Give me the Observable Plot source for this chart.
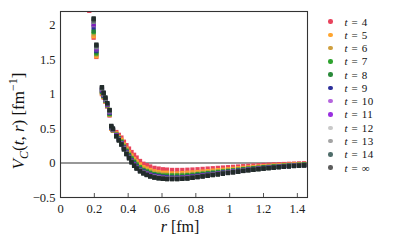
<!DOCTYPE html>
<html><head><meta charset="utf-8">
<script src="https://cdn.jsdelivr.net/npm/d3@7"></script>
<script src="https://cdn.jsdelivr.net/npm/@observablehq/plot@0.6"></script>
<style>
html,body{margin:0;padding:0;background:#fff;}
#wrap{position:relative;width:397px;height:245px;overflow:hidden;font-family:"Liberation Serif","DejaVu Serif",serif;}
#legend{position:absolute;left:328px;top:15px;font-family:"Liberation Serif","DejaVu Serif",serif;font-size:11px;color:#111;}
#legend .row{height:13.27px;line-height:12px;white-space:nowrap;display:flex;align-items:center;}
#legend .sw{display:inline-block;width:4.5px;height:4.5px;border-radius:50%;margin-right:12px;}
#legend .eq{margin:0 4px;}
#legend .num{letter-spacing:0.5px;}
</style></head>
<body><div id="wrap"><div id="legend"></div></div>
<script>
const r = [0.17,0.196,0.212,0.245,0.255,0.265,0.276,0.29,0.30,0.31,
 0.33,0.345,0.36,0.375,0.39,0.405,0.42,0.435,0.45,0.47,0.49,0.51,0.53,0.555,0.58,0.605,0.63,0.66,0.69,0.72,0.75,0.78,0.81,0.84,0.87,0.90,0.93,0.96,0.99,1.02,1.05,1.08,1.11,1.14,1.17,1.20,1.23,1.26,1.29,1.32,1.35,1.38,1.41,1.44];

const v4 = [2.21,1.82,1.54,1.00,0.95,0.89,0.82,0.69,0.50,0.47,
 0.45,0.41,0.37,0.31,0.26,0.21,0.16,0.12,0.08,0.03,-0.01,-0.03,-0.05,-0.07,-0.08,-0.09,-0.095,-0.10,-0.10,-0.10,-0.097,-0.094,-0.09,-0.085,-0.08,-0.075,-0.07,-0.065,-0.06,-0.055,-0.05,-0.045,-0.04,-0.036,-0.032,-0.028,-0.024,-0.02,-0.017,-0.014,-0.011,-0.008,-0.005,-0.003];
const v5 = [2.26,1.84,1.55,1.01,0.96,0.90,0.83,0.70,0.50,0.47,
 0.43,0.38,0.34,0.27,0.21,0.16,0.11,0.06,0.02,-0.02,-0.06,-0.08,-0.10,-0.12,-0.13,-0.14,-0.14,-0.15,-0.15,-0.145,-0.14,-0.136,-0.13,-0.124,-0.117,-0.11,-0.103,-0.097,-0.09,-0.083,-0.076,-0.07,-0.063,-0.057,-0.052,-0.047,-0.042,-0.036,-0.032,-0.028,-0.024,-0.02,-0.017,-0.014];
const v6 = [2.30,1.87,1.57,1.02,0.96,0.90,0.83,0.70,0.51,0.47,
 0.42,0.37,0.32,0.26,0.20,0.14,0.09,0.04,0.00,-0.05,-0.08,-0.10,-0.12,-0.14,-0.15,-0.16,-0.165,-0.17,-0.17,-0.165,-0.16,-0.155,-0.148,-0.14,-0.133,-0.125,-0.118,-0.11,-0.103,-0.095,-0.088,-0.08,-0.073,-0.067,-0.061,-0.055,-0.049,-0.044,-0.039,-0.034,-0.03,-0.026,-0.022,-0.019];
const v7 = [2.34,1.90,1.59,1.03,0.97,0.91,0.84,0.71,0.51,0.48,
 0.41,0.36,0.31,0.24,0.18,0.12,0.07,0.02,-0.02,-0.06,-0.10,-0.12,-0.14,-0.16,-0.17,-0.18,-0.18,-0.18,-0.18,-0.18,-0.175,-0.17,-0.16,-0.153,-0.145,-0.137,-0.129,-0.121,-0.113,-0.105,-0.097,-0.088,-0.08,-0.074,-0.067,-0.061,-0.055,-0.049,-0.044,-0.039,-0.034,-0.03,-0.025,-0.022];
const v8 = [2.37,1.92,1.61,1.04,0.98,0.91,0.84,0.72,0.51,0.48,
 0.41,0.35,0.30,0.23,0.17,0.11,0.05,0.01,-0.04,-0.08,-0.11,-0.13,-0.15,-0.17,-0.18,-0.19,-0.195,-0.20,-0.20,-0.195,-0.19,-0.18,-0.173,-0.164,-0.156,-0.147,-0.138,-0.13,-0.121,-0.113,-0.104,-0.095,-0.087,-0.08,-0.073,-0.066,-0.06,-0.054,-0.048,-0.043,-0.038,-0.033,-0.029,-0.025];
const v9 = [2.41,1.97,1.63,1.05,0.98,0.92,0.85,0.73,0.52,0.48,
 0.40,0.35,0.29,0.22,0.16,0.10,0.04,-0.01,-0.05,-0.09,-0.12,-0.15,-0.17,-0.18,-0.19,-0.20,-0.205,-0.21,-0.21,-0.205,-0.20,-0.19,-0.182,-0.173,-0.164,-0.155,-0.146,-0.137,-0.128,-0.119,-0.11,-0.101,-0.092,-0.085,-0.078,-0.07,-0.064,-0.058,-0.051,-0.046,-0.041,-0.036,-0.031,-0.028];
const v10 = [2.44,2.00,1.65,1.06,0.99,0.92,0.85,0.74,0.52,0.48,
 0.40,0.34,0.28,0.22,0.15,0.09,0.03,-0.02,-0.06,-0.10,-0.13,-0.15,-0.17,-0.19,-0.20,-0.21,-0.215,-0.215,-0.215,-0.21,-0.205,-0.198,-0.189,-0.18,-0.17,-0.161,-0.152,-0.142,-0.133,-0.124,-0.115,-0.105,-0.096,-0.088,-0.081,-0.074,-0.067,-0.06,-0.054,-0.048,-0.043,-0.038,-0.033,-0.03];
const v11 = [2.46,2.02,1.66,1.07,1.00,0.93,0.85,0.74,0.52,0.49,
 0.40,0.34,0.28,0.22,0.14,0.08,0.03,-0.02,-0.06,-0.11,-0.14,-0.16,-0.18,-0.20,-0.21,-0.22,-0.22,-0.22,-0.22,-0.215,-0.21,-0.203,-0.194,-0.184,-0.175,-0.165,-0.156,-0.146,-0.137,-0.127,-0.118,-0.108,-0.099,-0.091,-0.083,-0.076,-0.069,-0.062,-0.056,-0.05,-0.044,-0.04,-0.035,-0.031];
const v12 = [2.48,2.05,1.68,1.08,1.00,0.93,0.86,0.75,0.53,0.49,
 0.39,0.34,0.28,0.21,0.14,0.08,0.02,-0.03,-0.07,-0.11,-0.14,-0.17,-0.19,-0.20,-0.21,-0.22,-0.225,-0.225,-0.225,-0.22,-0.215,-0.208,-0.198,-0.188,-0.179,-0.169,-0.159,-0.15,-0.14,-0.13,-0.121,-0.111,-0.101,-0.093,-0.086,-0.078,-0.071,-0.064,-0.057,-0.052,-0.046,-0.041,-0.036,-0.032];
const v13 = [2.50,2.07,1.70,1.09,1.01,0.94,0.86,0.76,0.53,0.49,
 0.39,0.33,0.27,0.20,0.14,0.08,0.02,-0.03,-0.07,-0.11,-0.14,-0.17,-0.19,-0.21,-0.22,-0.22,-0.23,-0.23,-0.23,-0.225,-0.22,-0.21,-0.20,-0.191,-0.181,-0.171,-0.161,-0.151,-0.142,-0.132,-0.122,-0.112,-0.102,-0.095,-0.087,-0.079,-0.072,-0.065,-0.058,-0.052,-0.047,-0.042,-0.037,-0.033];
const v14 = [2.52,2.09,1.71,1.10,1.02,0.95,0.87,0.77,0.53,0.50,
 0.39,0.33,0.27,0.20,0.13,0.07,0.01,-0.04,-0.08,-0.12,-0.15,-0.17,-0.19,-0.21,-0.22,-0.23,-0.23,-0.23,-0.23,-0.227,-0.222,-0.213,-0.203,-0.193,-0.183,-0.173,-0.163,-0.153,-0.143,-0.133,-0.124,-0.114,-0.104,-0.096,-0.088,-0.08,-0.073,-0.066,-0.059,-0.053,-0.047,-0.042,-0.037,-0.033];
const vInf = [2.54,2.10,1.72,1.10,1.02,0.95,0.87,0.77,0.54,0.50,
 0.39,0.33,0.27,0.20,0.13,0.07,0.01,-0.04,-0.08,-0.12,-0.15,-0.175,-0.195,-0.21,-0.22,-0.23,-0.235,-0.235,-0.235,-0.23,-0.225,-0.215,-0.205,-0.195,-0.185,-0.175,-0.165,-0.155,-0.145,-0.135,-0.125,-0.115,-0.105,-0.097,-0.089,-0.081,-0.074,-0.067,-0.06,-0.054,-0.048,-0.043,-0.038,-0.034];

const labels = ["4","5","6","7","8","9","10","11","12","13","14","∞"];
const fills   = ["#e8435c","#ffa42e","#cf9f3e","#2ea32e","#2a8a3a","#2c2f9a","#b565dd","#9a2fe0","#c9c9c9","#a3a3a3","#4f6d6a","#5c5c5c"];
const marks   = ["#e8435c","#ffa42e","#cf9f3e","#2ea32e","#24803a","#2c2f9a","#8d4fb0","#7a20b8","#7d8a88","#4d5a58","#2f3d3b","#222b2a"];
const xTicks = [0,0.2,0.4,0.6,0.8,1,1.2,1.4];
const yTicks = [-0.5,0,0.5,1,1.5,2];

const valuesList = [v4,v5,v6,v7,v8,v9,v10,v11,v12,v13,v14,vInf];
const series = labels.map((t,i)=>({t, fill:fills[i], mark:marks[i], data: r.map((rr,j)=>({r:rr, v:valuesList[i][j]}))}));

const chart = Plot.plot({
  width:397, height:245,
  marginLeft:60, marginRight:90, marginTop:11, marginBottom:48,
  style:{fontFamily:"'Liberation Serif', 'DejaVu Serif', serif", fontSize:"12.5px", color:"#222", background:"transparent"},
  x:{domain:[0,1.46], label:null},
  y:{domain:[-0.5,2.2], label:null},
  marks:[
    Plot.ruleY([0], {stroke:"#333", strokeWidth:1.1}),
    ...series.map(s => Plot.dot(s.data, {x:"r", y:"v", symbol:"square", r:2.4, fill:s.mark, stroke:"none", clip:true})),
    Plot.axisX({ticks:xTicks, tickSize:-4, tickPadding:11, tickFormat:d=>String(d), stroke:"#555"}),
    Plot.axisY({ticks:yTicks, tickSize:0, tickPadding:5, tickFormat:d=>d<0?"\u2212"+String(-d):String(d)}),
    Plot.frame({stroke:"#333", strokeWidth:1.1})
  ]
});
chart.style.position="absolute"; chart.style.left="0"; chart.style.top="0";
document.getElementById("wrap").appendChild(chart);

const FF = "'Liberation Serif', 'DejaVu Serif', serif";
const svg = d3.select(chart);
const xt = svg.append("text").attr("x",180).attr("y",232).attr("text-anchor","middle")
  .style("font-family",FF).attr("font-size",16).attr("fill","#111");
xt.append("tspan").attr("font-style","italic").text("r");
xt.append("tspan").text(" [fm]");
const yt = svg.append("text").attr("transform","translate(24,121) rotate(-90)").attr("text-anchor","middle")
  .style("font-family",FF).attr("font-size",17).attr("fill","#111");
yt.append("tspan").attr("font-style","italic").text("V");
yt.append("tspan").attr("font-style","italic").attr("font-size",12).attr("dy",4).text("C");
yt.append("tspan").attr("dy",-4).text("(");
yt.append("tspan").attr("font-style","italic").text("t");
yt.append("tspan").text(", ");
yt.append("tspan").attr("font-style","italic").text("r");
yt.append("tspan").text(") [fm");
yt.append("tspan").attr("font-size",12).attr("dy",-7).text("\u22121");
yt.append("tspan").attr("dy",7).text("]");

const lg = d3.select("#legend");
series.forEach(s=>{
  const row = lg.append("div").attr("class","row");
  row.append("span").attr("class","sw").style("background",s.fill);
  row.append("i").text("t");
  row.append("span").attr("class","eq").text("=");
  row.append("span").attr("class","num").text(s.t);
});
</script></body></html>
